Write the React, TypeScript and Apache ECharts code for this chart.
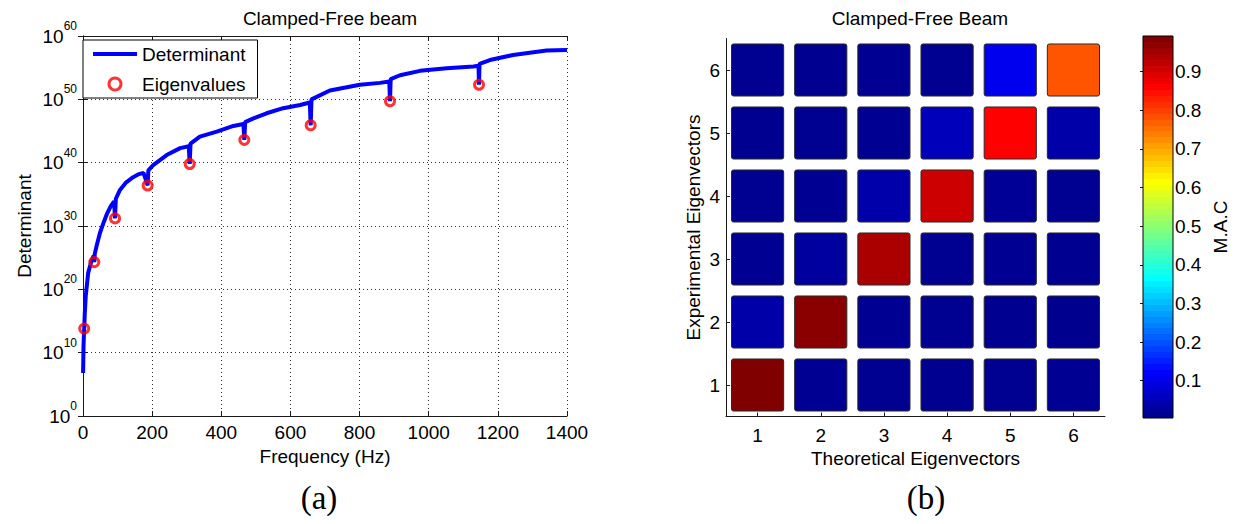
import React, { useEffect, useRef } from 'react';
import * as echarts from 'echarts';

// ---------- (a) Determinant curve (log10 of determinant vs frequency) ----------
const FREQ_HZ = [
  0.3, 1.5, 2.5, 3.5, 5, 8, 15, 25, 31, 32.7, 34, 40, 49, 60, 70, 80, 90, 92.6, 95,
  107, 125, 145, 162, 175, 187, 189, 203, 242, 281, 306, 308.6, 311, 338, 387, 435, 464, 466.6,
  469, 493, 531, 579, 628, 656, 658.6, 661, 714, 801, 859, 886, 888, 890, 917, 975,
  1052, 1129, 1144, 1145.5, 1147, 1177, 1244, 1341, 1400,
];
const DET_LOG10 = [
  6.8, 11, 12.6, 13.8, 16, 19, 22.6, 24.6, 25.3, 24.3, 25.6, 27, 28.9, 30.6, 32.0, 33.1, 33.9, 31.2, 34.3,
  35.7, 36.9, 37.7, 38.2, 38.4, 36.4, 38.8, 39.6, 41.2, 42.3, 42.6, 39.8, 43.0, 44.1, 44.9, 45.8, 46.1, 43.6,
  46.4, 47.0, 47.8, 48.6, 49.1, 49.5, 45.9, 50.0, 51.4, 52.3, 52.6, 52.8, 49.7, 53.2, 53.8, 54.5,
  54.9, 55.2, 55.3, 52.3, 55.6, 56.2, 57.0, 57.7, 57.8,
];
const EIG_FREQ_HZ = [3.5, 32.7, 92.6, 187, 308.6, 466.6, 658.6, 888, 1145.5];
const EIG_LOG10 = [13.8, 24.3, 31.2, 36.4, 39.8, 43.6, 45.9, 49.7, 52.3];

const FREQ_MIN = 0;
const FREQ_MAX = 1400;
const FREQ_STEP = 200;
const DET_EXP_MIN = 0;
const DET_EXP_MAX = 60;
const DET_EXP_STEP = 10;

// ---------- (b) MAC matrix ----------
const THEO_LABELS = ['1', '2', '3', '4', '5', '6'];
const EXP_LABELS = ['1', '2', '3', '4', '5', '6'];
// rows: experimental eigenvector 1..6, columns: theoretical eigenvector 1..6
const MAC_EXP1 = [0.9925, 0.006, 0.005, 0.004, 0.005, 0.006];
const MAC_EXP2 = [0.029, 0.982, 0.006, 0.005, 0.004, 0.0035];
const MAC_EXP3 = [0.006, 0.018, 0.95, 0.005, 0.006, 0.004];
const MAC_EXP4 = [0.005, 0.006, 0.03, 0.917, 0.011, 0.005];
const MAC_EXP5 = [0.004, 0.005, 0.006, 0.046, 0.867, 0.029];
const MAC_EXP6 = [0.005, 0.004, 0.006, 0.005, 0.097, 0.784];
const MAC_ROWS = [MAC_EXP1, MAC_EXP2, MAC_EXP3, MAC_EXP4, MAC_EXP5, MAC_EXP6];
const CBAR_TICKS = [0.1, 0.2, 0.3, 0.4, 0.5, 0.6, 0.7, 0.8, 0.9];

// MATLAB jet(64) colormap
function jet64(): string[] {
  const out: string[] = [];
  const cl = (v: number) => Math.max(0, Math.min(1, v));
  for (let i = 1; i <= 64; i++) {
    let r = 0, g = 0, b = 0;
    if (i <= 8) { b = (i + 8) / 16; }
    else if (i <= 24) { g = (i - 8) / 16; b = 1; }
    else if (i <= 40) { r = (i - 24) / 16; g = 1; b = 1 - (i - 24) / 16; }
    else if (i <= 56) { r = 1; g = 1 - (i - 40) / 16; }
    else { r = 1 - (i - 56) / 16; }
    const h = (v: number) => Math.round(cl(v) * 255).toString(16).padStart(2, '0');
    out.push('#' + h(r) + h(g) + h(b));
  }
  return out;
}

const FONT = '"Liberation Sans", Arial, Helvetica, sans-serif';
const AX = '#1a1a1a';

export default function App() {
  const ref = useRef<HTMLDivElement>(null);

  useEffect(() => {
    if (!ref.current) return;
    const chart = echarts.init(ref.current, undefined, { renderer: 'svg' });

    const JET = jet64();
    const macData: number[][] = [];
    MAC_ROWS.forEach((row, ri) => row.forEach((v, ci) => macData.push([ci, ri, v])));
    const allMac = MAC_ROWS.flat();
    const macMin = Math.min(...allMac);
    const macMax = Math.max(...allMac);

    const stops: { offset: number; color: string }[] = [];
    JET.forEach((c, i) => {
      stops.push({ offset: i / 64, color: c });
      stops.push({ offset: (i + 1) / 64, color: c });
    });

    const curve = FREQ_HZ.map((f, i) => [f, Math.pow(10, DET_LOG10[i])]);
    const eig = EIG_FREQ_HZ.map((f, i) => [f, Math.pow(10, EIG_LOG10[i])]);

    const tickLbl = { fontFamily: FONT, fontSize: 19, color: '#000' };

    chart.setOption({
      animation: false,
      backgroundColor: '#fff',
      textStyle: { fontFamily: FONT },
      title: [
        { text: 'Clamped-Free beam', left: 325, top: 4, textAlign: 'center',
          textStyle: { fontFamily: FONT, fontSize: 19, fontWeight: 'normal', color: '#000' } },
        { text: 'Clamped-Free Beam', left: 915, top: 4, textAlign: 'center',
          textStyle: { fontFamily: FONT, fontSize: 19, fontWeight: 'normal', color: '#000' } },
        { text: '(a)', left: 314, top: 476, textAlign: 'center',
          textStyle: { fontFamily: '"Liberation Serif", "Times New Roman", serif', fontSize: 33, fontWeight: 'normal', color: '#000' } },
        { text: '(b)', left: 921, top: 476, textAlign: 'center',
          textStyle: { fontFamily: '"Liberation Serif", "Times New Roman", serif', fontSize: 33, fontWeight: 'normal', color: '#000' } },
      ],
      legend: {
        data: [
          { name: 'Determinant', icon: 'path://M0,0 L44,0 L44,4 L0,4 Z' },
          { name: 'Eigenvalues', icon: 'circle' },
        ],
        orient: 'vertical',
        left: 83,
        top: 40,
        itemWidth: 44,
        itemHeight: 12,
        itemGap: 10,
        symbolKeepAspect: true,
        padding: [4, 12, 4, 10],
        backgroundColor: '#fff',
        borderColor: '#000',
        borderWidth: 1,
        borderRadius: 0,
        lineStyle: { width: 4 },
        itemStyle: { borderWidth: 3 },
        textStyle: { fontFamily: FONT, fontSize: 19, color: '#000', lineHeight: 20 },
      },
      visualMap: {
        show: false,
        type: 'continuous',
        seriesIndex: 2,
        dimension: 2,
        min: macMin,
        max: macMax,
        inRange: { color: JET },
      },
      grid: [
        { left: 83, top: 36, width: 484, height: 380, outerBoundsMode: 'none' },
        { left: 726, top: 38.5, width: 379, height: 378, outerBoundsMode: 'none' },
        { left: 1143, top: 36, width: 30, height: 382, outerBoundsMode: 'none' },
      ],
      xAxis: [
        {
          type: 'value', gridIndex: 0, min: FREQ_MIN, max: FREQ_MAX, interval: FREQ_STEP,
          name: 'Frequency (Hz)', nameLocation: 'middle', nameGap: 31,
          nameTextStyle: { fontFamily: FONT, fontSize: 19, color: '#000' },
          axisLine: { show: true, lineStyle: { color: AX, width: 1 } },
          axisTick: { show: true, inside: true, length: 5, lineStyle: { color: AX } },
          axisLabel: { ...tickLbl, margin: 7, formatter: (v: number) => String(v) },
          splitLine: { show: true, lineStyle: { color: '#333', width: 1, type: [1, 3] } },
        },
        {
          type: 'value', gridIndex: 0, position: 'top', min: FREQ_MIN, max: FREQ_MAX, interval: FREQ_STEP,
          axisLine: { show: true, lineStyle: { color: AX, width: 1 } },
          axisTick: { show: true, inside: true, length: 5, lineStyle: { color: AX } },
          axisLabel: { show: false },
          splitLine: { show: false },
        },
        {
          type: 'category', gridIndex: 1, data: THEO_LABELS,
          name: 'Theoretical Eigenvectors', nameLocation: 'middle', nameGap: 30,
          nameTextStyle: { fontFamily: FONT, fontSize: 19, color: '#000' },
          axisLine: { show: true, lineStyle: { color: AX, width: 1 } },
          axisTick: { show: true, inside: true, length: 4, alignWithLabel: true, lineStyle: { color: AX } },
          axisLabel: { ...tickLbl, margin: 9 },
          splitLine: { show: false },
        },
        {
          type: 'value', gridIndex: 2, min: 0, max: 1, show: false,
        },
      ],
      yAxis: [
        {
          type: 'log', logBase: 10, gridIndex: 0,
          min: Math.pow(10, DET_EXP_MIN), max: Math.pow(10, DET_EXP_MAX), interval: DET_EXP_STEP,
          name: 'Determinant', nameLocation: 'middle', nameGap: 49, nameRotate: 90,
          nameTextStyle: { fontFamily: FONT, fontSize: 19, color: '#000' },
          axisLine: { show: true, lineStyle: { color: AX, width: 1 } },
          axisTick: { show: true, inside: true, length: 5, lineStyle: { color: AX } },
          minorTick: { show: false },
          axisLabel: {
            margin: 6,
            formatter: (v: number) => `{b|10}{s|${Math.round(Math.log10(v))}}`,
            rich: {
              b: { fontFamily: FONT, fontSize: 19, color: '#000', lineHeight: 32, verticalAlign: 'middle' },
              s: { fontFamily: FONT, fontSize: 12, color: '#000', lineHeight: 12, verticalAlign: 'top' },
            },
          },
          splitLine: { show: true, lineStyle: { color: '#333', width: 1, type: [1, 3] } },
        },
        {
          type: 'log', logBase: 10, gridIndex: 0, position: 'right',
          min: Math.pow(10, DET_EXP_MIN), max: Math.pow(10, DET_EXP_MAX), interval: DET_EXP_STEP,
          axisLine: { show: true, lineStyle: { color: AX, width: 1 } },
          axisTick: { show: true, inside: true, length: 5, lineStyle: { color: AX } },
          axisLabel: { show: false },
          splitLine: { show: false },
        },
        {
          type: 'category', gridIndex: 1, data: EXP_LABELS,
          name: 'Experimental Eigenvectors', nameLocation: 'middle', nameGap: 23, nameRotate: 90,
          nameTextStyle: { fontFamily: FONT, fontSize: 19, color: '#000' },
          axisLine: { show: true, lineStyle: { color: AX, width: 1 } },
          axisTick: { show: true, inside: true, length: 4, alignWithLabel: true, lineStyle: { color: AX } },
          axisLabel: { ...tickLbl, margin: 6 },
          splitLine: { show: false },
        },
        {
          type: 'value', gridIndex: 2, position: 'right', min: macMin, max: macMax,
          name: 'M.A.C', nameLocation: 'middle', nameGap: 38, nameRotate: 90,
          nameTextStyle: { fontFamily: FONT, fontSize: 19, color: '#000' },
          axisLine: { show: false },
          axisTick: { show: true, inside: true, length: 3, customValues: CBAR_TICKS, lineStyle: { color: AX } },
          axisLabel: { ...tickLbl, margin: 2, customValues: CBAR_TICKS, formatter: (v: number) => v.toFixed(1) },
          splitLine: { show: false },
        },
        {
          type: 'value', gridIndex: 2, position: 'left', min: macMin, max: macMax,
          axisLine: { show: false },
          axisTick: { show: true, inside: true, length: 3, customValues: CBAR_TICKS, lineStyle: { color: AX } },
          axisLabel: { show: false },
          splitLine: { show: false },
        },
      ],
      series: [
        {
          name: 'Determinant', type: 'line', xAxisIndex: 0, yAxisIndex: 0,
          data: curve, symbol: 'none', showSymbol: false, smooth: false,
          lineStyle: { color: '#0000ff', width: 4 }, itemStyle: { color: '#0000ff' }, z: 3,
        },
        {
          name: 'Eigenvalues', type: 'scatter', xAxisIndex: 0, yAxisIndex: 0,
          data: eig, symbol: 'circle', symbolSize: 9,
          itemStyle: { color: 'rgba(255,255,255,0)', borderColor: '#ff0000', borderWidth: 3 }, z: 4,
        },
        {
          name: 'MAC', type: 'custom', xAxisIndex: 2, yAxisIndex: 2,
          data: macData,
          encode: { x: 0, y: 1 },
          renderItem: (params: any, api: any) => {
            const c = api.coord([api.value(0), api.value(1)]);
            const s = api.size([1, 1]);
            const w = s[0] * 0.826;
            const h = s[1] * 0.826;
            return {
              type: 'rect',
              shape: { x: c[0] - w / 2, y: c[1] - h / 2, width: w, height: h, r: 2 },
              style: { fill: api.visual('color'), stroke: '#2a2a2a', lineWidth: 1 },
            };
          },
        },
        {
          name: 'Colorbar', type: 'custom', xAxisIndex: 3, yAxisIndex: 3,
          data: [[0.5, (macMin + macMax) / 2]],
          renderItem: (params: any, api: any) => {
            const p0 = api.coord([0, macMax]);
            const p1 = api.coord([1, macMin]);
            return {
              type: 'rect',
              shape: { x: p0[0], y: p0[1], width: p1[0] - p0[0], height: p1[1] - p0[1] },
              style: {
                fill: new echarts.graphic.LinearGradient(0, 1, 0, 0, stops),
                stroke: '#000',
                lineWidth: 1,
              },
            };
          },
        },
      ],
    });

    return () => chart.dispose();
  }, []);

  return (
    <div
      ref={ref}
      style={{ position: 'fixed', left: 0, top: 0, width: 1238, height: 524, background: '#fff' }}
    />
  );
}
